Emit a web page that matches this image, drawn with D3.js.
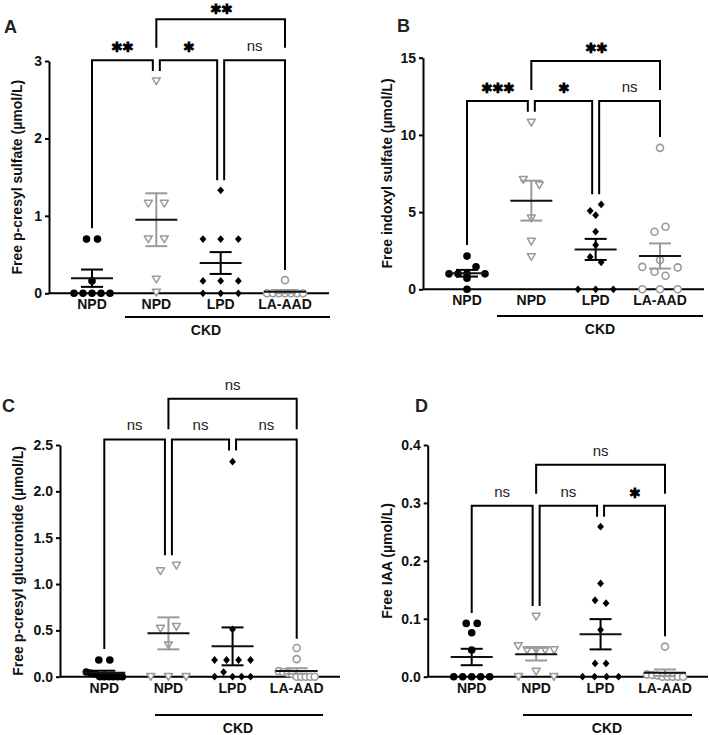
<!DOCTYPE html>
<html><head><meta charset="utf-8">
<script src="https://cdn.jsdelivr.net/npm/d3@7"></script>
<style>body{margin:0;background:#fff}svg{display:block}text{font-family:"Liberation Sans",Arial,sans-serif}</style>
</head><body><svg id="c" width="709" height="735"></svg>
<script>
// ---------- data ----------
const categories = ["NPD", "NPD", "LPD", "LA-AAD"];
const groupLabel = "CKD";

// A: Free p-cresyl sulfate
const A_NPD   = [0.7, 0.7, 0.16, 0, 0, 0, 0, 0];
const A_NPDckd = [2.74, 1.16, 1.16, 0.7, 0.7, 0.18, 0.01];
const A_LPD   = [1.33, 0.7, 0.7, 0.7, 0.16, 0.16, 0.16, 0, 0, 0];
const A_LAAAD = [0.17, 0, 0, 0, 0, 0, 0, 0];
const A_ticks = [0, 1, 2, 3];
const A_sig = [
  {a:0, b:1, y:3.01, ya:0.84, yb:2.87, t:"**"},
  {a:1, b:2, y:3.01, ya:2.87, yb:1.46, t:"*"},
  {a:2, b:3, y:3.01, ya:1.46, yb:0.30, t:"ns"},
  {a:1, b:3, y:3.54, ya:3.17, yb:3.17, t:"**"}
];

// B: Free indoxyl sulfate
const B_NPD   = [2.15, 1.0, 1.0, 1.0, 1.46, 1.0, 0.72, 0];
const B_NPDckd = [10.8, 7.1, 6.75, 4.6, 3.1, 2.1];
const B_LPD   = [5.08, 5.5, 4.8, 3.73, 2.87, 2.1, 1.75, 0, 0, 0];
const B_LAAAD = [9.16, 3.73, 4.05, 1.45, 1.9, 1.42, 1.14, 0.88, 0, 0, 0];
const B_ticks = [0, 5, 10, 15];
const B_sig = [
  {a:0, b:1, y:12.2, ya:2.87, yb:11.5, t:"***"},
  {a:1, b:2, y:12.2, ya:11.5, yb:6.16, t:"*"},
  {a:2, b:3, y:12.2, ya:6.16, yb:9.87, t:"ns"},
  {a:1, b:3, y:14.79, ya:12.9, yb:12.9, t:"**"}
];

// C: Free p-cresyl glucuronide
const C_NPD   = [0.18, 0.18, 0.05, 0.04, 0.03, 0, 0, 0, 0, 0, 0];
const C_NPDckd = [1.14, 1.2, 0.52, 0.54, 0.34, 0, 0, 0];
const C_LPD   = [2.32, 0.51, 0.18, 0.18, 0.18, 0.18, 0, 0.05, 0, 0, 0];
const C_LAAAD = [0.31, 0.19, 0.06, 0.05, 0.04, 0.03, 0, 0, 0, 0, 0];
const C_ticks = [0, 0.5, 1.0, 1.5, 2.0, 2.5];
const C_sig = [
  {a:0, b:1, y:2.56, ya:0.30, yb:1.31, t:"ns"},
  {a:1, b:2, y:2.56, ya:1.31, yb:2.44, t:"ns"},
  {a:2, b:3, y:2.56, ya:2.44, yb:0.41, t:"ns"},
  {a:1, b:3, y:3.00, ya:2.67, yb:2.67, t:"ns"}
];

// D: Free IAA
const D_NPD   = [0.092, 0.092, 0.076, 0.046, 0, 0, 0, 0, 0];
const D_NPDckd = [0.104, 0.053, 0.046, 0.046, 0.046, 0.046, 0, 0.009, 0];
const D_LPD   = [0.259, 0.161, 0.132, 0.127, 0.081, 0.023, 0.023, 0, 0, 0, 0];
const D_LAAAD = [0.052, 0.004, 0.003, 0.002, 0, 0, 0, 0, 0];
const D_ticks = [0, 0.1, 0.2, 0.3, 0.4];
const D_sig = [
  {a:0, b:1, y:0.295, ya:0.110, yb:0.122, t:"ns"},
  {a:1, b:2, y:0.295, ya:0.122, yb:0.276, t:"ns"},
  {a:2, b:3, y:0.295, ya:0.276, yb:0.070, t:"*"},
  {a:1, b:3, y:0.366, ya:0.316, yb:0.316, t:"ns"}
];

// ---------- layout ----------
const GRAY = "#9a9a9a", BLACK = "#000";
const styles = [
  {shape:"dot",  color:BLACK},
  {shape:"tri",  color:GRAY},
  {shape:"dia",  color:BLACK},
  {shape:"ring", color:GRAY}
];

const panels = [
  {label:"A", lx:4, ly:33, ax:49, r0:293.3, r1:61, dom:[0,3], ticks:A_ticks, fmt:d3.format("d"),
   x0:92, x3:285, xEnd:329, catY:308.5, ylab:"Free p-cresyl sulfate (\u00b5mol/L)", ylx:17,
   ckd:[125, 330, 317, 206], series:[A_NPD, A_NPDckd, A_LPD, A_LAAAD], sig:A_sig},
  {label:"B", lx:397, ly:32, ax:423, r0:289.3, r1:57.7, dom:[0,15], ticks:B_ticks, fmt:d3.format("d"),
   x0:467, x3:660, xEnd:704, catY:305, ylab:"Free indoxyl sulfate (\u00b5mol/L)", ylx:387,
   ckd:[497, 703, 316, 600], series:[B_NPD, B_NPDckd, B_LPD, B_LAAAD], sig:B_sig},
  {label:"C", lx:2, ly:412, ax:60, r0:676.7, r1:445, dom:[0,2.5], ticks:C_ticks, fmt:d3.format(".1f"),
   x0:104.3, x3:296.7, xEnd:340, catY:693, ylab:"Free p-cresyl glucuronide (\u00b5mol/L)", ylx:18,
   ckd:[155, 323, 715, 238], series:[C_NPD, C_NPDckd, C_LPD, C_LAAAD], sig:C_sig},
  {label:"D", lx:415, ly:412, ax:427.7, r0:676.7, r1:445, dom:[0,0.4], ticks:D_ticks, fmt:d3.format(".1f"),
   x0:471.7, x3:665, xEnd:708, catY:693, ylab:"Free IAA (\u00b5mol/L)", ylx:387,
   ckd:[523, 692, 715, 607], series:[D_NPD, D_NPDckd, D_LPD, D_LAAAD], sig:D_sig}
];

const svg = d3.select("#c");

function rowLayout(values, y, pairSp) {
  const idx = values.map((v, i) => i).sort((a, b) => values[b] - values[a] || a - b);
  const rows = [];
  idx.forEach(i => {
    const py = y(values[i]);
    const r = rows[rows.length - 1];
    if (r && Math.abs(py - r.y0) <= 8) r.m.push(i);
    else rows.push({y0: py, m: [i]});
  });
  const off = new Array(values.length).fill(0);
  rows.forEach(r => {
    r.m.sort((a, b) => a - b);
    const n = r.m.length;
    const sp = n === 1 ? 0 : n === 2 ? pairSp : Math.min(17.7, 36 / (n - 1));
    r.m.forEach((i, k) => off[i] = (k - (n - 1) / 2) * sp);
  });
  return off;
}

function drawMarker(g, shape, color, cx, cy) {
  if (shape === "dot") {
    g.append("circle").attr("cx", cx).attr("cy", cy).attr("r", 3.8).attr("fill", color);
  } else if (shape === "ring") {
    g.append("circle").attr("cx", cx).attr("cy", cy).attr("r", 3.5)
      .attr("fill", "#fff").attr("stroke", color).attr("stroke-width", 1.6);
  } else if (shape === "tri") {
    g.append("path").attr("d", `M${cx-4},${cy-3.2}L${cx+4},${cy-3.2}L${cx},${cy+3.6}Z`)
      .attr("fill", "#fff").attr("stroke", color).attr("stroke-width", 1.5).attr("stroke-linejoin", "round");
  } else {
    g.append("path").attr("d", `M${cx},${cy-3.9}L${cx+3.4},${cy}L${cx},${cy+3.9}L${cx-3.4},${cy}Z`)
      .attr("fill", color);
  }
}

panels.forEach(p => {
  const g = svg.append("g");
  const y = d3.scaleLinear().domain(p.dom).range([p.r0, p.r1]);
  const x = d3.scalePoint().domain([0, 1, 2, 3]).range([p.x0, p.x3]);

  g.append("text").attr("x", p.lx).attr("y", p.ly).attr("font-size", 18).attr("font-weight", "bold")
    .attr("fill", "#222").text(p.label);

  const ax = g.append("g").attr("transform", `translate(${p.ax},0)`)
    .call(d3.axisLeft(y).tickValues(p.ticks).tickFormat(p.fmt).tickSize(4).tickSizeOuter(0).tickPadding(3));
  ax.select(".domain").attr("stroke", "#000").attr("stroke-width", 2);
  ax.selectAll(".tick line").attr("stroke", "#000").attr("stroke-width", 2);
  ax.selectAll(".tick text").attr("font-size", 14).attr("font-weight", "bold")
    .attr("font-family", '"Liberation Sans", Arial, sans-serif').attr("fill", "#111");

  g.append("line").attr("x1", p.ax).attr("x2", p.xEnd).attr("y1", y(0)).attr("y2", y(0))
    .attr("stroke", "#000").attr("stroke-width", 2);

  g.append("text").attr("transform", `translate(${p.ylx},${(p.r0 + p.r1) / 2}) rotate(-90)`)
    .attr("text-anchor", "middle").attr("dominant-baseline", "central")
    .attr("font-size", 14).attr("font-weight", "bold").attr("fill", "#111").text(p.ylab);

  categories.forEach((c, i) => {
    g.append("text").attr("x", x(i)).attr("y", p.catY).attr("text-anchor", "middle")
      .attr("font-size", 14).attr("font-weight", "bold").attr("fill", "#111").text(c);
  });

  g.append("line").attr("x1", p.ckd[0]).attr("x2", p.ckd[1]).attr("y1", p.ckd[2]).attr("y2", p.ckd[2])
    .attr("stroke", "#000").attr("stroke-width", 2);
  g.append("text").attr("x", p.ckd[3]).attr("y", p.ckd[2] + 18).attr("text-anchor", "middle")
    .attr("font-size", 14).attr("font-weight", "bold").attr("fill", "#111").text(groupLabel);

  p.series.forEach((vals, i) => {
    const st = styles[i];
    const off = rowLayout(vals, y, st.shape === "tri" ? 16 : 11);
    const gp = g.append("g");
    vals.forEach((v, k) => drawMarker(gp, st.shape, st.color, x(i) + off[k], y(v)));
    const m = d3.mean(vals);
    const sem = d3.deviation(vals) / Math.sqrt(vals.length);
    const cx = x(i);
    const lc = st.color;
    gp.append("line").attr("x1", cx).attr("x2", cx).attr("y1", y(m + sem)).attr("y2", y(Math.max(m - sem, p.dom[0])))
      .attr("stroke", lc).attr("stroke-width", 2);
    [m + sem, m - sem].forEach(v => {
      if (v < p.dom[0]) return;
      gp.append("line").attr("x1", cx - 11).attr("x2", cx + 11).attr("y1", y(v)).attr("y2", y(v))
        .attr("stroke", lc).attr("stroke-width", 2);
    });
    gp.append("line").attr("x1", cx - 21).attr("x2", cx + 21).attr("y1", y(m)).attr("y2", y(m))
      .attr("stroke", "#111").attr("stroke-width", 2);
  });

  p.sig.forEach(s => {
    const sameLevel = p.sig.filter(o => o !== s && Math.abs(o.y - s.y) < 1e-9);
    let xa = x(s.a), xb = x(s.b);
    if (sameLevel.some(o => o.b === s.a)) xa += 3.5;
    if (sameLevel.some(o => o.a === s.b)) xb -= 3.5;
    const yl = y(s.y);
    g.append("path").attr("d", `M${xa},${y(s.ya)}V${yl}H${xb}V${y(s.yb)}`)
      .attr("fill", "none").attr("stroke", "#000").attr("stroke-width", 2);
    const tx = (xa + xb) / 2;
    if (s.t === "ns") {
      g.append("text").attr("x", tx).attr("y", yl - 9).attr("text-anchor", "middle")
        .attr("font-size", 15).attr("fill", "#222").text("ns");
    } else {
      g.append("text").attr("x", tx).attr("y", Math.max(yl - 13, 9)).attr("text-anchor", "middle")
        .attr("dominant-baseline", "central").attr("font-family", '"DejaVu Sans", sans-serif')
        .attr("font-size", 14).attr("font-weight", "bold").attr("fill", "#000")
        .attr("letter-spacing", -1).text("\u2731".repeat(s.t.length));
    }
  });
});
</script></body></html>
